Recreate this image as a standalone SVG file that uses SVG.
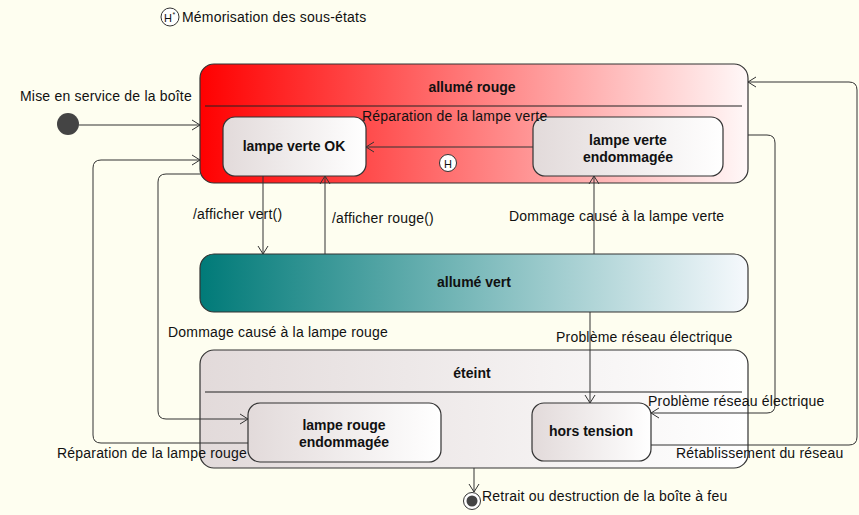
<svg xmlns="http://www.w3.org/2000/svg" width="859" height="515" viewBox="0 0 859 515">
  <defs>
    <linearGradient id="gRed" x1="0" y1="0" x2="1" y2="0">
      <stop offset="0" stop-color="#FF0000"/>
      <stop offset="1" stop-color="#FFF8F8"/>
    </linearGradient>
    <linearGradient id="gTeal" x1="0" y1="0" x2="1" y2="0">
      <stop offset="0" stop-color="#007A78"/>
      <stop offset="1" stop-color="#F6F9FD"/>
    </linearGradient>
    <linearGradient id="gGrey" x1="0" y1="0" x2="1" y2="0">
      <stop offset="0" stop-color="#E2DADA"/>
      <stop offset="1" stop-color="#FFFFFF"/>
    </linearGradient>
    <marker id="arrow" markerUnits="userSpaceOnUse" markerWidth="10" markerHeight="12" refX="9" refY="6" orient="auto">
      <path d="M1,1 L9,6 L1,11" fill="none" stroke="#333" stroke-width="1"/>
    </marker>
    <style>
      text { font-family: "Liberation Sans", Arial, sans-serif; font-size: 14px; letter-spacing: 0.2px; fill: #111; }
      .title { font-weight: bold; text-anchor: middle; letter-spacing: 0; }
      .state { stroke: #333; stroke-width: 1.2; }
      .sep { stroke: #222; stroke-width: 1.2; }
      .edge { fill: none; stroke: #333; stroke-width: 1; marker-end: url(#arrow); }
      .hist { fill: #fff; stroke: #333; stroke-width: 1; }
    </style>
  </defs>

  <rect width="859" height="515" fill="#FEFEF0"/>

  <!-- legend: deep history -->
  <g id="legend">
    <circle class="hist" cx="170" cy="17" r="9"/>
    <text x="168" y="22" style="font-size:11px;letter-spacing:0" text-anchor="middle">H</text>
    <text x="172.5" y="17" style="font-size:7px;letter-spacing:0">*</text>
    <text x="182" y="22">Mémorisation des sous-états</text>
  </g>

  <!-- initial pseudo-state -->
  <g id="initial">
    <circle cx="68" cy="124" r="11" fill="#444"/>
  </g>

  <!-- composite state: allumé rouge -->
  <g id="allume-rouge">
    <rect class="state" x="200" y="64" width="548" height="119" rx="14" fill="url(#gRed)"/>
    <text class="title" x="472" y="92">allumé rouge</text>
    <line class="sep" x1="205" y1="106" x2="742" y2="106"/>
  </g>
  <g id="lampe-verte-ok">
    <rect class="state" x="223" y="117" width="143" height="59" rx="12" fill="url(#gGrey)"/>
    <text class="title" x="294" y="151">lampe verte OK</text>
  </g>
  <g id="lampe-verte-endommagee">
    <rect class="state" x="533" y="117" width="190" height="59" rx="12" fill="url(#gGrey)"/>
    <text class="title" x="628" y="145">lampe verte</text>
    <text class="title" x="628" y="162">endommagée</text>
  </g>
  <g id="history">
    <circle class="hist" cx="448" cy="163" r="8.5"/>
    <text x="448" y="167.5" style="font-size:11px;letter-spacing:0" text-anchor="middle">H</text>
  </g>

  <!-- simple state: allumé vert -->
  <g id="allume-vert">
    <rect class="state" x="200" y="254" width="548" height="58" rx="14" fill="url(#gTeal)"/>
    <text class="title" x="474" y="287">allumé vert</text>
  </g>

  <!-- composite state: éteint -->
  <g id="eteint">
    <rect class="state" x="200" y="350" width="548" height="118" rx="14" fill="url(#gGrey)"/>
    <text class="title" x="472" y="378">éteint</text>
    <line class="sep" x1="205" y1="392" x2="742" y2="392"/>
  </g>
  <g id="lampe-rouge-endommagee">
    <rect class="state" x="248" y="403" width="193" height="59" rx="12" fill="url(#gGrey)"/>
    <text class="title" x="344" y="430">lampe rouge</text>
    <text class="title" x="344" y="447">endommagée</text>
  </g>
  <g id="hors-tension">
    <rect class="state" x="532" y="403" width="119" height="58" rx="12" fill="url(#gGrey)"/>
    <text class="title" x="591" y="436">hors tension</text>
  </g>

  <!-- final state -->
  <g id="final">
    <circle cx="472" cy="501" r="8.5" fill="#fff" stroke="#333" stroke-width="1"/>
    <circle cx="472" cy="501" r="5.5" fill="#444"/>
  </g>

  <!-- transitions -->
  <g id="connectors">
    <path class="edge" d="M79,125 H200"/>
    <path class="edge" d="M533,147 H366"/>
    <path class="edge" d="M263,176 V254"/>
    <path class="edge" d="M325,254 V176"/>
    <path class="edge" d="M594,254 V176"/>
    <path class="edge" d="M200,174 H166 Q158,174 158,182 V411 Q158,419 166,419 H248"/>
    <path class="edge" d="M248,443 H101 Q93,443 93,435 V168 Q93,160 101,160 H200"/>
    <path class="edge" d="M590,312 V403"/>
    <path class="edge" d="M748,135 H767 Q775,135 775,143 V405 Q775,413 767,413 H651"/>
    <path class="edge" d="M651,445 H849 Q857,445 857,437 V90 Q857,82 849,82 H748"/>
    <path class="edge" d="M474,468 V492"/>

    <text x="20" y="101">Mise en service de la boîte</text>
    <text x="362" y="121">Réparation de la lampe verte</text>
    <text x="193" y="219">/afficher vert()</text>
    <text x="332" y="223">/afficher rouge()</text>
    <text x="509" y="221">Dommage causé à la lampe verte</text>
    <text x="168" y="337">Dommage causé à la lampe rouge</text>
    <text x="556" y="342">Problème réseau électrique</text>
    <text x="648" y="406">Problème réseau électrique</text>
    <text x="57" y="458">Réparation de la lampe rouge</text>
    <text x="676" y="458">Rétablissement du réseau</text>
    <text x="482" y="501">Retrait ou destruction de la boîte à feu</text>
  </g>
</svg>
